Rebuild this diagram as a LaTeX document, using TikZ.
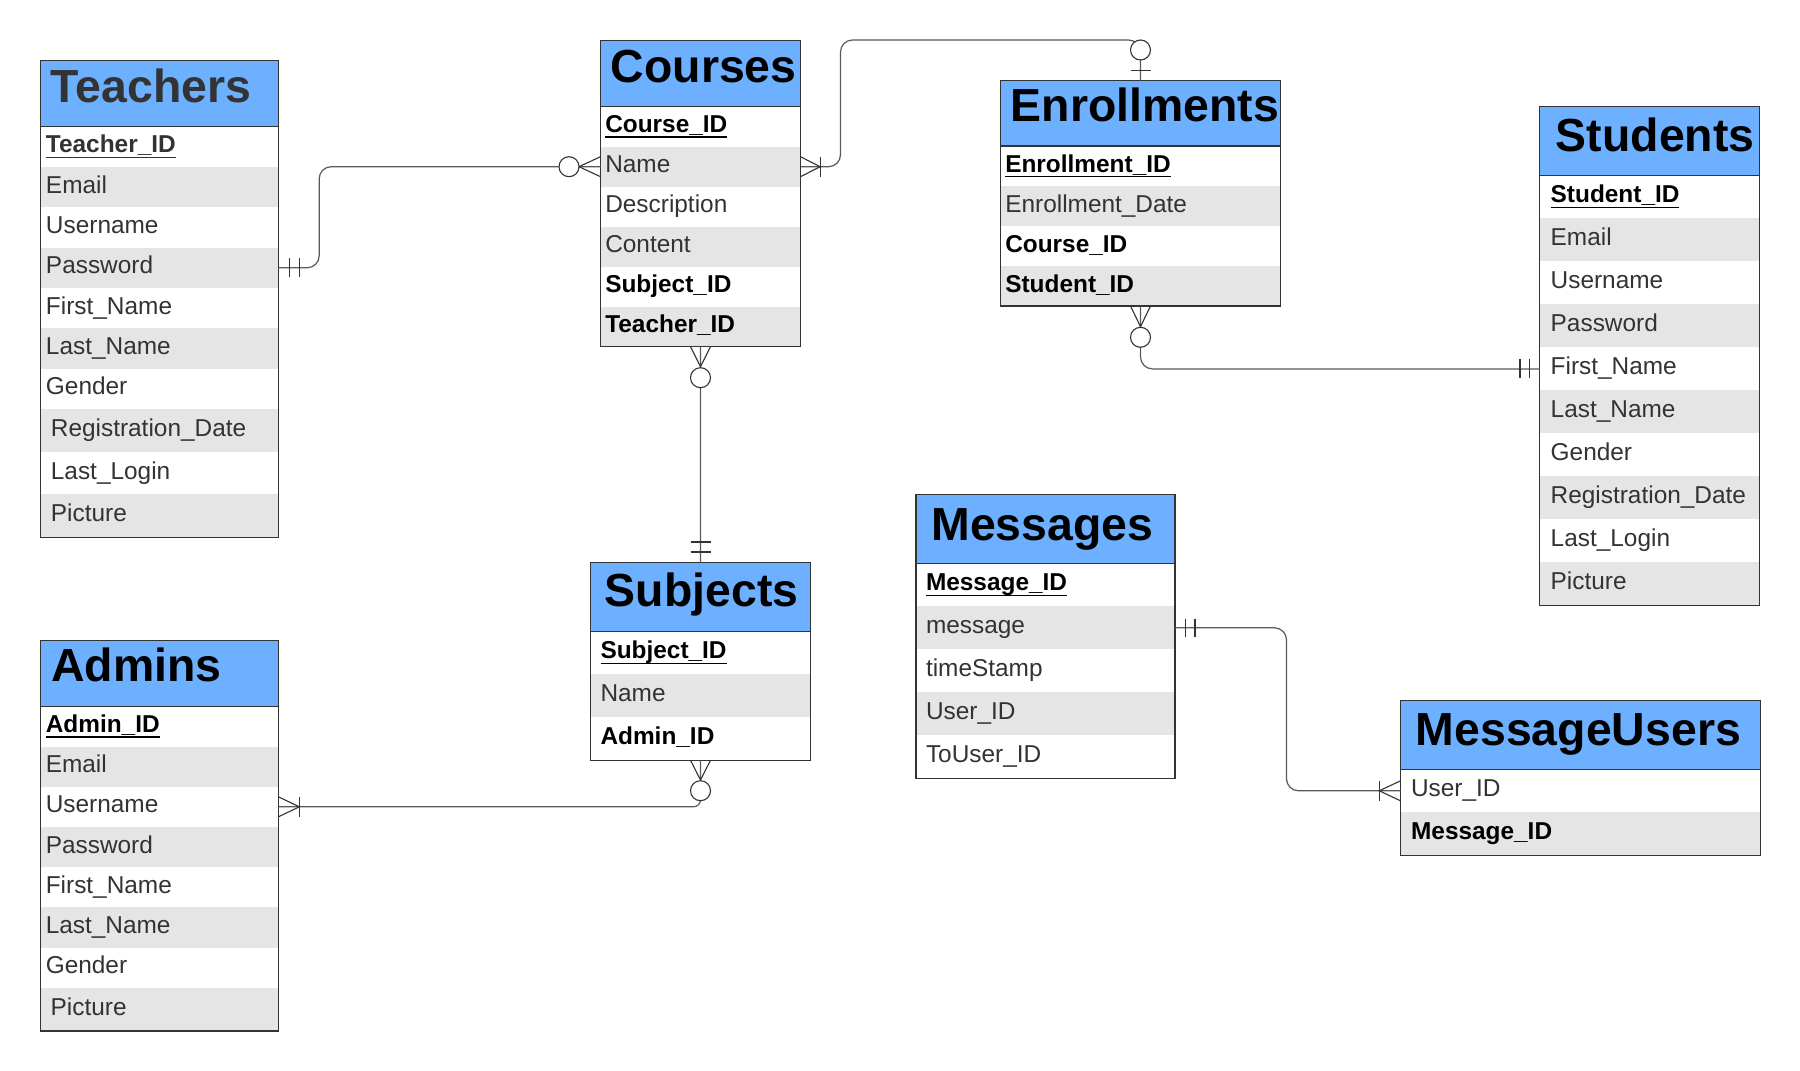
\documentclass[tikz,border=0pt]{standalone}
\usepackage{fontspec}
\setmainfont{Liberation Sans}
\usetikzlibrary{calc}
\definecolor{hdrblue}{RGB}{108,176,255}
\definecolor{rowgray}{RGB}{229,229,229}
\definecolor{bordergray}{RGB}{51,51,51}
\definecolor{txtgray}{RGB}{51,51,51}
\definecolor{linegray}{RGB}{90,90,90}
\definecolor{symgray}{RGB}{51,51,51}
\newsavebox\keybox
\newcommand\pkey[1]{\sbox\keybox{\bfseries #1}\rlap{\rule[-2.7pt]{\wd\keybox}{0.85pt}}\usebox\keybox}
\newcommand\rowfont{\fontsize{12.2}{14}\selectfont}
\newcommand\ttlfont{\fontsize{23.2}{26}\selectfont\bfseries}
\tikzset{
  cell/.style={anchor=north west, inner ysep=0pt, outer sep=0pt, align=left,
    text height=9pt, text depth=3pt, font=\rowfont, text=txtgray, fill=white},
  gcell/.style={cell, fill=rowgray},
  fk/.style={text=black, font=\rowfont\bfseries},
  pk/.style={text=black},
  hdr/.style={anchor=north west, fill=hdrblue, draw=bordergray, line width=0.6pt, inner sep=0pt, outer sep=0pt},
  ttl/.style={anchor=base west, inner sep=0pt, font=\ttlfont, text=black},
  frame/.style={draw=bordergray, line width=0.6pt},
  conn/.style={draw=linegray, line width=0.6pt, rounded corners=6pt},
  sym/.style={draw=symgray, line width=0.55pt},
  Tc/.style={inner xsep=2.75pt, text width=113.5pt, minimum height=20.15pt},
  Tc2/.style={inner xsep=5.2pt, text width=108.6pt, minimum height=21.4pt},
  Cc/.style={inner xsep=2.4pt, text width=95.2pt, minimum height=20pt},
  Ec/.style={inner xsep=2.4pt, text width=135.2pt, minimum height=20pt},
  Sc/.style={inner xsep=5.6pt, text width=98.8pt, minimum height=21.5pt},
  Bc/.style={inner xsep=5pt, text width=100pt, minimum height=21.5pt},
  Ac/.style={inner xsep=2.65pt, text width=113.7pt, minimum height=20.1pt},
  Ac2/.style={inner xsep=5.1pt, text width=108.8pt, minimum height=21.65pt},
  Mc/.style={inner xsep=5pt, text width=119.5pt, minimum height=21.5pt},
  Uc/.style={inner xsep=5.3pt, text width=169.4pt, minimum height=21.5pt},
}
\begin{document}
\begin{tikzpicture}[x=0.5pt,y=-0.5pt]
\useasboundingbox (0,0) rectangle (1800,1071);
\fill[white] (0,0) rectangle (1800,1071);

% ---------- Teachers
\node[hdr, minimum width=119pt, minimum height=33pt] (T-hdr) at (40.5,60.7) {};
\node[ttl, text=txtgray] (T-ttl) at (50.5,102.7) {Teachers};
\node[cell, Tc] (T-id) at (T-hdr.south west) {\pkey{Teacher\_ID}};
\node[gcell, Tc] (T-em) at (T-id.south west) {Email};
\node[cell, Tc] (T-un) at (T-em.south west) {Username};
\node[gcell, Tc] (T-pw) at (T-un.south west) {Password};
\node[cell, Tc] (T-fn) at (T-pw.south west) {First\_Name};
\node[gcell, Tc] (T-ln) at (T-fn.south west) {Last\_Name};
\node[cell, Tc] (T-ge) at (T-ln.south west) {Gender};
\node[gcell, Tc2] (T-rd) at (T-ge.south west) {Registration\_Date};
\node[cell, Tc2] (T-ll) at (T-rd.south west) {Last\_Login};
\node[gcell, Tc2] (T-pic) at (T-ll.south west) {Picture};
\draw[frame] (T-hdr.north west) rectangle (T-pic.south east);
\draw[frame] (T-hdr.south west) -- (T-hdr.south east);

% ---------- Courses
\node[hdr, minimum width=100pt, minimum height=33pt] (C-hdr) at (600.5,40.7) {};
\node[ttl] (C-ttl) at (610.5,82.7) {Courses};
\node[cell, Cc, pk] (C-id) at (C-hdr.south west) {\pkey{Course\_ID}};
\node[gcell, Cc] (C-name) at (C-id.south west) {Name};
\node[cell, Cc] (C-desc) at (C-name.south west) {Description};
\node[gcell, Cc] (C-cont) at (C-desc.south west) {Content};
\node[cell, Cc, fk] (C-sid) at (C-cont.south west) {Subject\_ID};
\node[gcell, Cc, fk] (C-tid) at (C-sid.south west) {Teacher\_ID};
\draw[frame] (C-hdr.north west) rectangle (C-tid.south east);
\draw[frame] (C-hdr.south west) -- (C-hdr.south east);

% ---------- Enrollments
\node[hdr, minimum width=140pt, minimum height=32.65pt] (E-hdr) at (1000.5,80.7) {};
\node[ttl] (E-ttl) at (1010.5,121.7) {Enrollments};
\node[cell, Ec, pk] (E-id) at (E-hdr.south west) {\pkey{Enrollment\_ID}};
\node[gcell, Ec] (E-date) at (E-id.south west) {Enrollment\_Date};
\node[cell, Ec, fk] (E-cid) at (E-date.south west) {Course\_ID};
\node[gcell, Ec, fk] (E-sid) at (E-cid.south west) {Student\_ID};
\draw[frame] (E-hdr.north west) rectangle (E-sid.south east);
\draw[frame] (E-hdr.south west) -- (E-hdr.south east);

% ---------- Students
\node[hdr, minimum width=110pt, minimum height=34.6pt] (S-hdr) at (1539.5,106.2) {};
\node[ttl] (S-ttl) at (1555.5,151.6) {Students};
\node[cell, Sc, pk] (S-id) at (S-hdr.south west) {\pkey{Student\_ID}};
\node[gcell, Sc] (S-em) at (S-id.south west) {Email};
\node[cell, Sc] (S-un) at (S-em.south west) {Username};
\node[gcell, Sc] (S-pw) at (S-un.south west) {Password};
\node[cell, Sc] (S-fn) at (S-pw.south west) {First\_Name};
\node[gcell, Sc] (S-ln) at (S-fn.south west) {Last\_Name};
\node[cell, Sc] (S-ge) at (S-ln.south west) {Gender};
\node[gcell, Sc] (S-rd) at (S-ge.south west) {Registration\_Date};
\node[cell, Sc] (S-ll) at (S-rd.south west) {Last\_Login};
\node[gcell, Sc] (S-pic) at (S-ll.south west) {Picture};
\draw[frame] (S-hdr.north west) rectangle (S-pic.south east);
\draw[frame] (S-hdr.south west) -- (S-hdr.south east);

% ---------- Subjects
\node[hdr, minimum width=110pt, minimum height=34.3pt] (Sb-hdr) at (590.5,562.7) {};
\node[ttl] (Sb-ttl) at (604.5,606.7) {Subjects};
\node[cell, Bc, pk] (Sb-id) at (Sb-hdr.south west) {\pkey{Subject\_ID}};
\node[gcell, Bc] (Sb-name) at (Sb-id.south west) {Name};
\node[cell, Bc, fk] (Sb-aid) at (Sb-name.south west) {Admin\_ID};
\draw[frame] (Sb-hdr.north west) rectangle (Sb-aid.south east);
\draw[frame] (Sb-hdr.south west) -- (Sb-hdr.south east);

% ---------- Admins
\node[hdr, minimum width=119pt, minimum height=33pt] (A-hdr) at (40.5,640.3) {};
\node[ttl] (A-ttl) at (51,681.7) {Admins};
\node[cell, Ac, pk] (A-id) at (A-hdr.south west) {\pkey{Admin\_ID}};
\node[gcell, Ac] (A-em) at (A-id.south west) {Email};
\node[cell, Ac] (A-un) at (A-em.south west) {Username};
\node[gcell, Ac] (A-pw) at (A-un.south west) {Password};
\node[cell, Ac] (A-fn) at (A-pw.south west) {First\_Name};
\node[gcell, Ac] (A-ln) at (A-fn.south west) {Last\_Name};
\node[cell, Ac] (A-ge) at (A-ln.south west) {Gender};
\node[gcell, Ac2] (A-pic) at (A-ge.south west) {Picture};
\draw[frame] (A-hdr.north west) rectangle (A-pic.south east);
\draw[frame] (A-hdr.south west) -- (A-hdr.south east);

% ---------- Messages
\node[hdr, minimum width=129.5pt, minimum height=34.5pt] (M-hdr) at (916,494.3) {};
\node[ttl] (M-ttl) at (931,540) {Messages};
\node[cell, Mc, pk] (M-id) at (M-hdr.south west) {\pkey{Message\_ID}};
\node[gcell, Mc] (M-msg) at (M-id.south west) {message};
\node[cell, Mc] (M-ts) at (M-msg.south west) {timeStamp};
\node[gcell, Mc] (M-uid) at (M-ts.south west) {User\_ID};
\node[cell, Mc] (M-tuid) at (M-uid.south west) {ToUser\_ID};
\draw[frame] (M-hdr.north west) rectangle (M-tuid.south east);
\draw[frame] (M-hdr.south west) -- (M-hdr.south east);

% ---------- MessageUsers
\node[hdr, minimum width=180pt, minimum height=34.3pt] (MU-hdr) at (1400.5,700.7) {};
\node[ttl] (MU-ttl) at (1415.5,745) {MessageUsers};
\node[cell, Uc] (MU-uid) at (MU-hdr.south west) {User\_ID};
\node[gcell, Uc, fk] (MU-mid) at (MU-uid.south west) {Message\_ID};
\draw[frame] (MU-hdr.north west) rectangle (MU-mid.south east);
\draw[frame] (MU-hdr.south west) -- (MU-hdr.south east);

% ---------- connectors
\draw[conn] (T-pw.east) -- ++(40.7,0) |- (C-name.west);
\draw[conn] (C-name.east) -- ++(40,0) |- ($(E-hdr.north)+(0,-40.7)$) -- (E-hdr.north);
\draw[conn] (E-sid.south) |- (S-fn.west);
\draw[conn] (C-tid.south) -- (Sb-hdr.north);
\draw[conn, rounded corners=3.5pt] (Sb-aid.south) |- (A-un.east);
\draw[conn] (M-msg.east) -- ++(111.5,0) |- (MU-uid.west);

% ---------- end symbols
% Teachers -- Courses
\draw[sym] ($(T-pw.east)+(11,-9.7)$) -- ++(0,19.4);
\draw[sym] ($(T-pw.east)+(21,-9.7)$) -- ++(0,19.4);
\draw[sym] ($(C-name.west)+(0,-10)$) -- ($(C-name.west)+(-21.5,0)$) -- ($(C-name.west)+(0,10)$);
\draw[sym, fill=white] ($(C-name.west)+(-31.5,0)$) circle[radius=5pt];
% Courses -- Enrollments
\draw[sym] ($(C-name.east)+(0,-10)$) -- ($(C-name.east)+(19.6,0)$) -- ($(C-name.east)+(0,10)$);
\draw[sym] ($(C-name.east)+(19.6,-10)$) -- ++(0,20);
\draw[sym] ($(E-hdr.north)+(-10,-10)$) -- ++(20,0);
\draw[sym, fill=white] ($(E-hdr.north)+(0,-30.7)$) circle[radius=5pt];
% Enrollments -- Students
\draw[sym] ($(E-sid.south)+(-10,0)$) -- ($(E-sid.south)+(0,20.7)$) -- ($(E-sid.south)+(10,0)$);
\draw[sym, fill=white] ($(E-sid.south)+(0,31.3)$) circle[radius=5pt];
\draw[sym] ($(S-fn.west)+(-19.5,-9.5)$) -- ++(0,19);
\draw[sym] ($(S-fn.west)+(-10,-9.5)$) -- ++(0,19);
% Courses -- Subjects
\draw[sym] ($(C-tid.south)+(-10,0)$) -- ($(C-tid.south)+(0,20)$) -- ($(C-tid.south)+(10,0)$);
\draw[sym, fill=white] ($(C-tid.south)+(0,31)$) circle[radius=5pt];
\draw[sym] ($(Sb-hdr.north)+(-10,-20.7)$) -- ++(20,0);
\draw[sym] ($(Sb-hdr.north)+(-10,-10.7)$) -- ++(20,0);
% Subjects -- Admins
\draw[sym] ($(Sb-aid.south)+(-10,0)$) -- ($(Sb-aid.south)+(0,19.7)$) -- ($(Sb-aid.south)+(10,0)$);
\draw[sym, fill=white] ($(Sb-aid.south)+(0,30.4)$) circle[radius=5pt];
\draw[sym] ($(A-un.east)+(0,-10)$) -- ($(A-un.east)+(20.8,0)$) -- ($(A-un.east)+(0,10)$);
\draw[sym] ($(A-un.east)+(20.8,-10)$) -- ++(0,20);
% Messages -- MessageUsers
\draw[sym] ($(M-msg.east)+(10.7,-9)$) -- ++(0,18);
\draw[sym] ($(M-msg.east)+(20,-9)$) -- ++(0,18);
\draw[sym] ($(MU-uid.west)+(0,-10)$) -- ($(MU-uid.west)+(-21.2,0)$) -- ($(MU-uid.west)+(0,10)$);
\draw[sym] ($(MU-uid.west)+(-21.2,-10)$) -- ++(0,20);
\end{tikzpicture}
\end{document}
